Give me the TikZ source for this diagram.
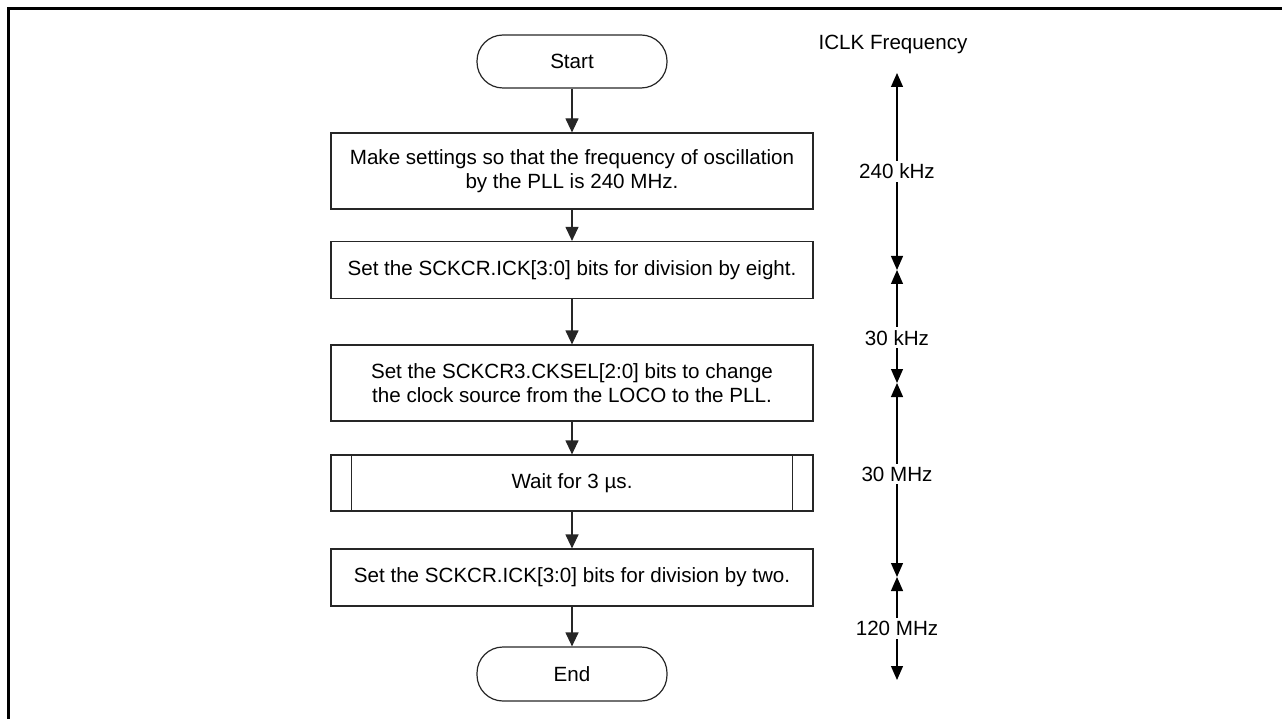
\documentclass[tikz,border=0pt]{standalone}
\usepackage{fontspec}
\setmainfont{Liberation Sans}
\usetikzlibrary{arrows.meta}

\begin{document}
\begin{tikzpicture}[x=1pt, y=-1pt,
    font=\fontsize{20.6}{24}\selectfont,
    terminal/.style={draw=black!85, line width=1.2pt, rounded corners=26pt, minimum width=190pt, minimum height=53pt},
    process/.style={draw=black!85, line width=1.2pt, minimum width=482pt, align=center, inner sep=0pt},
    flow/.style={black!85, line width=1.2pt, -{Triangle[length=14pt, width=13pt]}},
    freq/.style={line width=1.2pt, {Triangle[length=14pt, width=12pt]}-{Triangle[length=14pt, width=12pt]}},
    freqlabel/.style={fill=white, inner sep=3pt}]
  \useasboundingbox (0,0) rectangle (1282,719);
  % Frame
  \draw[line width=3.3pt] (8.5,719) -- (8.5,8.5) -- (1282,8.5);
  % Flowchart
  \node[terminal] (start) at (572,61.5) {Start};
  \node[process, minimum height=76pt] (pll) at (572,171) {Make settings so that the frequency of oscillation\\by the PLL is 240 MHz.};
  \node[process, minimum height=57pt] (div8) at (572,270) {Set the SCKCR.ICK[3:0] bits for division by eight.};
  \node[process, minimum height=76pt] (cksel) at (572,383) {Set the SCKCR3.CKSEL[2:0] bits to change\\the clock source from the LOCO to the PLL.};
  \node[process, minimum height=56pt] (wait) at (572,483) {Wait for 3 µs.};
  \draw[black!85, line width=1.2pt] ([xshift=21pt]wait.north west) -- ([xshift=21pt]wait.south west);
  \draw[black!85, line width=1.2pt] ([xshift=-21pt]wait.north east) -- ([xshift=-21pt]wait.south east);
  \node[process, minimum height=57pt] (div2) at (572,577.5) {Set the SCKCR.ICK[3:0] bits for division by two.};
  \node[terminal, minimum height=54pt] (end) at (572,674) {End};
  \draw[flow] (start) -- (pll);
  \draw[flow] (pll) -- (div8);
  \draw[flow] (div8) -- (cksel);
  \draw[flow] (cksel) -- (wait);
  \draw[flow] (wait) -- (div2);
  \draw[flow] (div2) -- (end);
  % ICLK frequency scale
  \node (iclk) at (893,44) {ICLK Frequency};
  \coordinate (f0) at (897,73);
  \coordinate (f1) at (897,270);
  \coordinate (f2) at (897,383);
  \coordinate (f3) at (897,577);
  \coordinate (f4) at (897,680);
  \draw[freq] (f0) -- (f1) node[midway, freqlabel] {240 kHz};
  \draw[freq] (f1) -- (f2) node[pos=0.6, freqlabel] {30 kHz};
  \draw[freq] (f2) -- (f3) node[pos=0.47, freqlabel] {30 MHz};
  \draw[freq] (f3) -- (f4) node[midway, freqlabel] {120 MHz};
\end{tikzpicture}
\end{document}
